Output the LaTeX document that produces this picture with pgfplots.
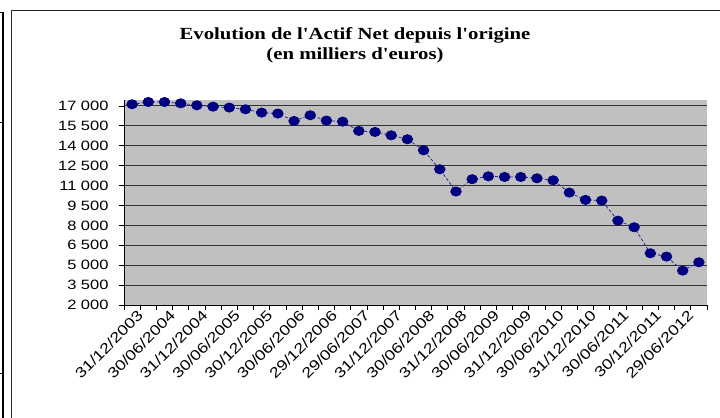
\documentclass[border=0pt]{standalone}
\usepackage{pgfplots}
\pgfplotsset{compat=1.18}
\usepackage{fontspec}
\setmainfont{Liberation Sans}[FakeStretch=1.22]
\newfontfamily\titlefont{Liberation Serif}[FakeStretch=1.22]
\definecolor{navyc}{RGB}{0,0,128}
\definecolor{linec}{RGB}{40,40,150}
\definecolor{plotgray}{RGB}{192,192,192}
\pgfplotstableread{
x y
0.5 17130
1.5 17300
2.5 17300
3.5 17200
4.5 17050
5.5 16950
6.5 16880
7.5 16750
8.5 16500
9.5 16430
10.5 15870
11.5 16300
12.5 15900
13.5 15820
14.5 15120
15.5 15040
16.5 14790
17.5 14490
18.5 13660
19.5 12230
20.5 10550
21.5 11480
22.5 11700
23.5 11650
24.5 11650
25.5 11550
26.5 11400
27.5 10470
28.5 9920
29.5 9870
30.5 8360
31.5 7860
32.5 5900
33.5 5650
34.5 4590
35.5 5220
}\actifnet
\begin{document}
\begin{tikzpicture}
\useasboundingbox (-124bp,-113bp) rectangle (596bp,305bp);
\fill[white] (-124bp,-113bp) rectangle (596bp,305bp);
\begin{axis}[
  at={(0,0)}, anchor=south west,
  width=583bp, height=205bp, scale only axis,
  xmin=0, xmax=36, ymin=2000, ymax=17450,
  axis x line=bottom, axis y line=left,
  axis line style={-, black, line width=0.8bp},
  axis background/.style={fill=plotgray},
  ytick={2000,3500,...,17000},
  scaled y ticks=false,
  ymajorgrids, major grid style={black!80, line width=1bp},
  xtick={0,...,36}, xticklabel=\empty,
  extra x ticks={0.5,2.5,...,34.5},
  extra x tick labels={31/12/2003,30/06/2004,31/12/2004,30/06/2005,30/12/2005,30/06/2006,29/12/2006,29/06/2007,31/12/2007,30/06/2008,31/12/2008,30/06/2009,31/12/2009,30/06/2010,31/12/2010,30/06/2011,30/12/2011,29/06/2012},
  extra x tick style={major tick length=0pt, grid=none},
  tick align=outside, major tick length=5bp,
  tick style={black, line width=0.8bp},
  xticklabel style={rotate=45, anchor=north east, inner sep=1bp, yshift=-5bp, xshift=1bp, font=\fontsize{14.5bp}{16bp}\selectfont},
  yticklabel style={font=\fontsize{13.5bp}{16bp}\selectfont, xshift=-7bp},
  /pgf/number format/fixed,
  /pgf/number format/1000 sep={\ },
  /pgf/number format/assume math mode=true,
  clip=false,
]
\addplot[color=linec, densely dashed, line width=0.8bp, mark=*, mark size=4.6bp,
  mark options={solid, fill=navyc, draw=navyc, xscale=1.15}] table[x=x,y=y] {\actifnet};
\end{axis}
\node[font=\titlefont\bfseries\fontsize{17bp}{20bp}\selectfont, align=center] at (231bp,260bp)
  {Evolution de l'Actif Net depuis l'origine\\(en milliers d'euros)};
\draw[black!85, line width=1.3bp] (-112.5bp,294.5bp) -- (596bp,294.5bp);
\draw[black!85, line width=1bp] (-112.5bp,295bp) -- (-112.5bp,-113bp);
\draw[black, line width=2bp] (-121bp,292.5bp) -- (-121bp,-113bp);
\draw[black, line width=1bp] (-124bp,292.5bp) -- (-120bp,292.5bp);
\draw[black, line width=1bp] (-124bp,182bp) -- (-120bp,182bp);
\draw[black, line width=1bp] (-124bp,-68bp) -- (-120bp,-68bp);
\end{tikzpicture}
\end{document}
